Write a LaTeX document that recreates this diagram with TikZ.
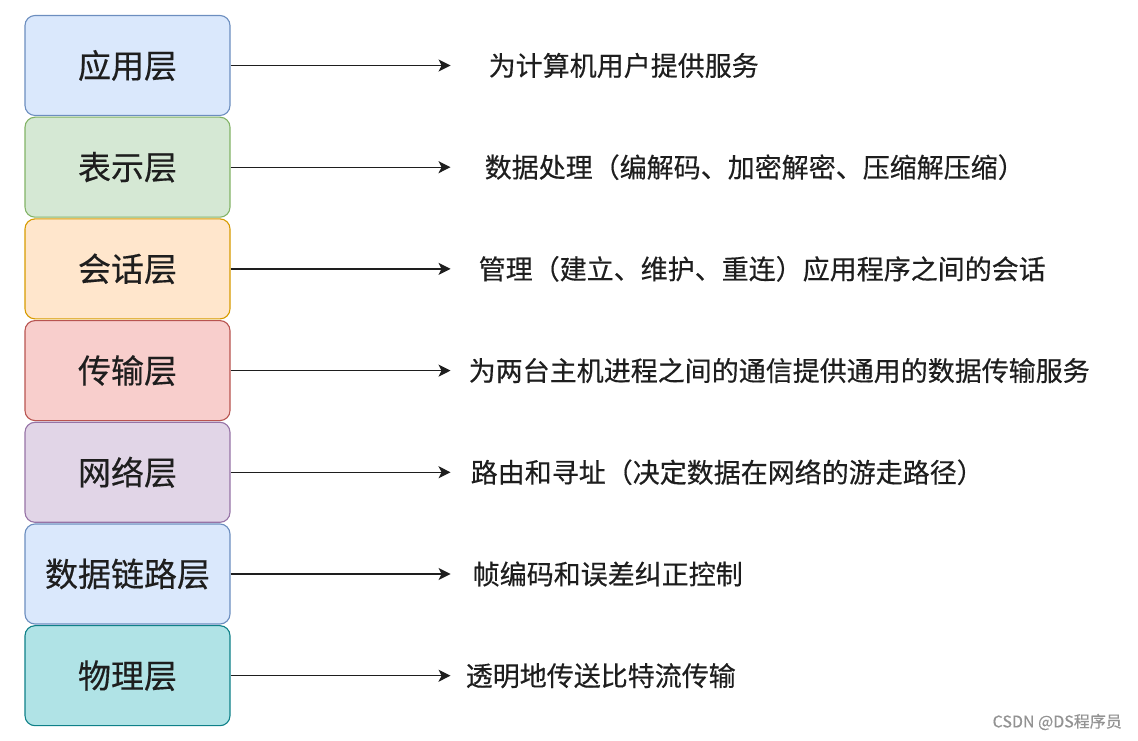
\documentclass[tikz,border=0pt]{standalone}
\usepackage{fontspec}
\setmainfont{Noto Sans CJK SC}[FakeBold=0.4]
\usepackage{xcolor}
\usetikzlibrary{positioning,arrows.meta}
\definecolor{bluefill}{HTML}{DAE8FC}
\definecolor{bluedraw}{HTML}{6C8EBF}
\definecolor{greenfill}{HTML}{D5E8D4}
\definecolor{greendraw}{HTML}{82B366}
\definecolor{orangefill}{HTML}{FFE6CC}
\definecolor{orangedraw}{HTML}{D79B00}
\definecolor{redfill}{HTML}{F8CECC}
\definecolor{reddraw}{HTML}{B85450}
\definecolor{purplefill}{HTML}{E1D5E7}
\definecolor{purpledraw}{HTML}{9673A6}
\definecolor{tealfill}{HTML}{B0E3E6}
\definecolor{tealdraw}{HTML}{0E8088}
\definecolor{ink}{HTML}{1E1E1E}

\begin{document}
\begin{tikzpicture}[x=1pt,y=1pt,>={Stealth[length=12pt,width=12pt,inset=3pt]},
  layer/.style={draw,line width=1.1pt,rounded corners=10pt,minimum width=205pt,
    minimum height=100pt,inner sep=0pt,text=ink,font=\fontsize{33}{36}\selectfont},
  desc/.style={inner sep=0pt,text=ink,font=\fontsize{27}{30}\selectfont},
  node distance=0.6pt]
\useasboundingbox (0,0) rectangle (1138,741);
%%First place the layers
\node[layer,fill=bluefill,draw=bluedraw] (app) at (127.5,675.5) {应用层};
\node[layer,fill=greenfill,draw=greendraw] (pre) [below=of app] {表示层};
\node[layer,fill=orangefill,draw=orangedraw] (ses) [below=of pre] {会话层};
\node[layer,fill=redfill,draw=reddraw] (tra) [below=of ses] {传输层};
\node[layer,fill=purplefill,draw=purpledraw] (net) [below=of tra] {网络层};
\node[layer,fill=bluefill,draw=bluedraw] (lnk) [below=of net] {数据链路层};
\node[layer,fill=tealfill,draw=tealdraw] (phy) [below=of lnk] {物理层};
%%Then the arrow ends
\coordinate (app-t) at ([xshift=220pt]app.east);
\coordinate (pre-t) at ([xshift=220pt]pre.east);
\coordinate (ses-t) at ([xshift=220pt]ses.east);
\coordinate (tra-t) at ([xshift=220pt]tra.east);
\coordinate (net-t) at ([xshift=220pt]net.east);
\coordinate (lnk-t) at ([xshift=220pt]lnk.east);
\coordinate (phy-t) at ([xshift=220pt]phy.east);
%%And the texts
\node[desc] (app-d) [right=38pt of app-t] {为计算机用户提供服务};
\node[desc] (pre-d) [right=34pt of pre-t] {数据处理（编解码、加密解密、压缩解压缩）};
\node[desc] (ses-d) [right=28pt of ses-t] {管理（建立、维护、重连）应用程序之间的会话};
\node[desc] (tra-d) [right=18pt of tra-t] {为两台主机进程之间的通信提供通用的数据传输服务};
\node[desc] (net-d) [right=20pt of net-t] {路由和寻址（决定数据在网络的游走路径）};
\node[desc] (lnk-d) [right=22pt of lnk-t] {帧编码和误差纠正控制};
\node[desc] (phy-d) [right=15pt of phy-t] {透明地传送比特流传输};
\node[anchor=east,inner sep=0pt,text=gray!85,font=\fontsize{16}{18}\selectfont] (mark) at (1122,19) {CSDN @DS程序员};
%%Draw the arrows
\draw[->,line width=1.3pt,ink]
(app) edge (app-t)
(pre) edge (pre-t)
(ses) edge (ses-t)
(tra) edge (tra-t)
(net) edge (net-t)
(lnk) edge (lnk-t)
(phy) edge (phy-t);
\end{tikzpicture}
\end{document}
